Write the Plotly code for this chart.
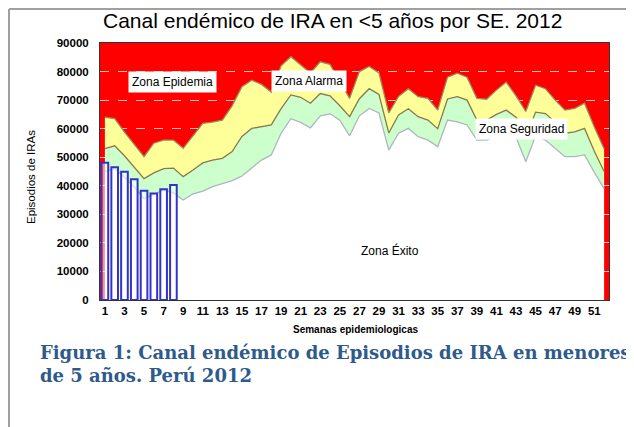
import plotly.graph_objects as go

weeks = list(range(1, 53))
upper = [64000, 63500, 58800, 54300, 50200, 54900, 56000, 56000, 53100, 57500,
         61900, 62300, 63000, 68000, 74700, 77000, 75500, 72800, 82000, 85200,
         82300, 79500, 83400, 82500, 76500, 70600, 80000, 81800, 79500, 65500,
         71300, 74000, 71200, 70600, 66500, 78000, 79400, 78000, 70600, 70300,
         73500, 76300, 71500, 66000, 75200, 74000, 70000, 66500, 67100, 68900,
         60600, 53000]
middle = [53000, 54000, 50500, 46500, 42500, 44500, 46000, 46200, 43200, 45500,
          48000, 49000, 49600, 52000, 57300, 60100, 60700, 61300, 67000, 71800,
          71000, 68900, 72300, 71500, 68000, 64200, 70500, 74000, 72000, 58500,
          64800, 67000, 64200, 63000, 60000, 70400, 71200, 70000, 63000, 63000,
          65000, 66500, 64000, 57000, 65800, 65300, 62300, 58400, 58900, 60100,
          52100, 45000]
lower = [45000, 46000, 43000, 39500, 35500, 37000, 38500, 37500, 35000, 37200,
         38100, 39700, 40800, 41800, 43400, 46200, 49000, 50800, 58400, 63500,
         62200, 60300, 64500, 65200, 63000, 57500, 64500, 67100, 65500, 52500,
         58400, 60100, 57200, 56000, 53700, 63000, 62400, 61300, 56000, 56000,
         57500, 59300, 57000, 48400, 57500, 56000, 53000, 50200, 50200, 50800,
         44700, 39000]
bar_weeks = [1, 2, 3, 4, 5, 6, 7, 8]
cases_2012 = [48100, 46500, 44900, 42300, 38300, 37300, 38800, 40300]
x_ticks = list(range(1, 52, 2))

FONT = "Liberation Sans, Arial, sans-serif"

fig = go.Figure()
fig.add_trace(go.Scatter(x=weeks, y=lower, mode="lines", fill="tozeroy",
                         fillcolor="#FFFFFF", line=dict(color="#AEB8C4", width=1.3),
                         hoverinfo="skip"))
fig.add_trace(go.Scatter(x=weeks, y=middle, mode="lines", fill="tonexty",
                         fillcolor="#CCFFCC", line=dict(color="#8A7A50", width=1.3),
                         hoverinfo="skip"))
fig.add_trace(go.Scatter(x=weeks, y=upper, mode="lines", fill="tonexty",
                         fillcolor="#FFFF99", line=dict(color="#9A8A62", width=1.3),
                         hoverinfo="skip"))
fig.add_trace(go.Bar(x=bar_weeks, y=cases_2012, xaxis="x2", yaxis="y2", width=0.68,
                     marker=dict(color="rgba(255,255,255,0.55)",
                                 line=dict(color="#3333CC", width=2))))

# page has an 8px body margin; figure sized so it fills the 634x427 window
W, H = 626, 419
L, T = 92, 35
pw, ph = 509, 257
R, B = W - L - pw, H - T - ph

def px(x):  # page pixel -> paper x
    return (x - 100) / pw

def py(y):  # page pixel -> paper y
    return (300 - y) / ph

fig.update_layout(
    width=W, height=H, margin=dict(l=L, r=R, t=T, b=B),
    paper_bgcolor="white", plot_bgcolor="#FF0000",
    showlegend=False, barmode="overlay",
    xaxis=dict(range=[0.5, 52.5], tickmode="array", tickvals=x_ticks,
               ticktext=[str(v) for v in x_ticks], showgrid=False, zeroline=False,
               showline=True, linecolor="#333333", linewidth=1, mirror=True,
               tickfont=dict(family=FONT, size=11.5, color="#000000", weight="bold")),
    yaxis=dict(range=[0, 90000], dtick=10000, tickformat="d", zeroline=False,
               showgrid=True, gridcolor="rgba(255,225,225,0.85)", griddash="dash",
               gridwidth=1, showline=True, linecolor="#333333", linewidth=1, mirror=True,
               ticklabelstandoff=8,
               tickfont=dict(family=FONT, size=11.5, color="#000000", weight="bold")),
    xaxis2=dict(range=[0.5, 52.5], overlaying="x", visible=False),
    yaxis2=dict(range=[0, 90000], overlaying="y", visible=False),
)

annotations = [
    dict(text="Canal endémico de IRA en <5 años por SE. 2012", xref="paper", yref="paper",
         x=px(332), y=py(20), xanchor="center", yanchor="middle", showarrow=False,
         font=dict(family=FONT, size=21, color="#000000")),
    dict(text="Episodios de IRAs", xref="paper", yref="paper", x=px(31), y=py(177),
         xanchor="center", yanchor="middle", textangle=-90, showarrow=False,
         font=dict(family=FONT, size=11.5, color="#000000")),
    dict(text="Semanas epidemiologicas", xref="paper", yref="paper", x=px(355), y=py(329),
         xanchor="center", yanchor="middle", showarrow=False,
         font=dict(family=FONT, size=10, color="#000000", weight="bold")),
    dict(text="Zona Epidemia", x=7.9, y=76200, showarrow=False, bgcolor="#FFFFFF",
         borderpad=3, font=dict(family=FONT, size=12, color="#000000")),
    dict(text="Zona Alarma", x=21.9, y=76700, showarrow=False, bgcolor="#FFFFFF",
         borderpad=3, font=dict(family=FONT, size=12, color="#000000")),
    dict(text="Zona Seguridad", x=43.55, y=60000, showarrow=False, bgcolor="#FFFFFF",
         borderpad=3, font=dict(family=FONT, size=12, color="#000000")),
    dict(text="Zona Éxito", x=30.1, y=17200, showarrow=False,
         font=dict(family=FONT, size=12, color="#000000")),
    dict(text="Figura 1: Canal endémico de Episodios de IRA en menores<br>de 5 años. Perú 2012",
         xref="paper", yref="paper", x=px(38), y=py(340), xanchor="left", yanchor="top",
         align="left", showarrow=False,
         font=dict(family="DejaVu Serif, serif", size=18, color="#2E5A8C", weight="bold")),
]
fig.update_layout(annotations=annotations)

fig.update_layout(shapes=[
    dict(type="line", xref="paper", yref="paper", x0=px(9), x1=px(650), y0=py(9), y1=py(9),
         line=dict(color="#A0A0A0", width=2)),
    dict(type="line", xref="paper", yref="paper", x0=px(9), x1=px(9), y0=py(9), y1=py(440),
         line=dict(color="#A0A0A0", width=2)),
])

fig.write_html("out.html")
